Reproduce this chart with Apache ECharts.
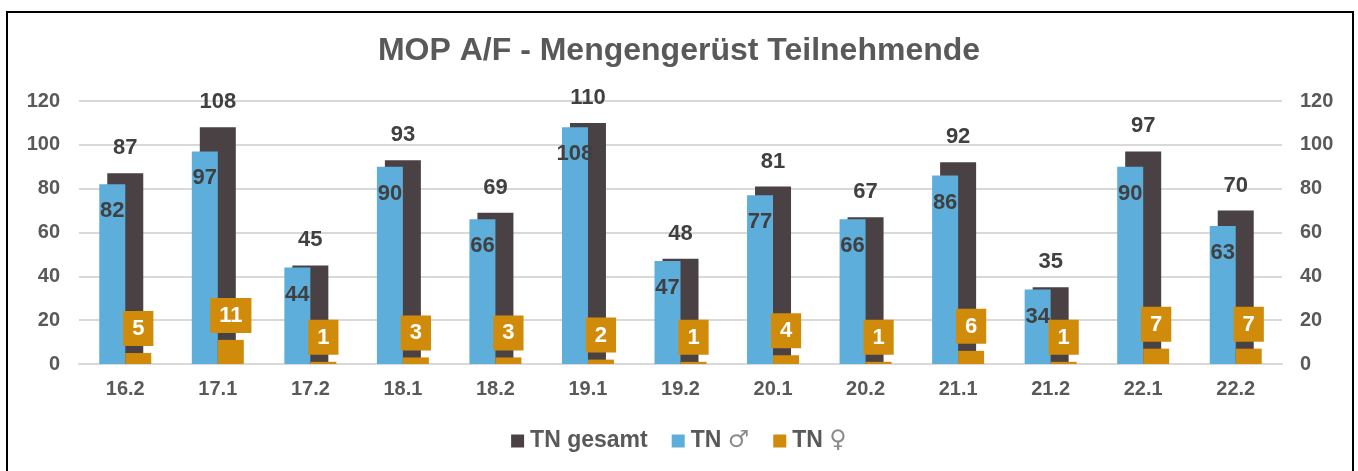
<!DOCTYPE html>
<html>
<head>
<meta charset="utf-8">
<script src="https://cdn.jsdelivr.net/npm/echarts@6/dist/echarts.min.js"></script>
<style>
    html, body { margin: 0; padding: 0; background: #fff; }
    #chart { width: 1358px; height: 471px; }
</style>
</head>
<body>
<div id="chart"></div>
<script>
    var categories = ['16.2', '17.1', '17.2', '18.1', '18.2', '19.1', '19.2', '20.1', '20.2', '21.1', '21.2', '22.1', '22.2'];
    var tnGesamt = [87, 108, 45, 93, 69, 110, 48, 81, 67, 92, 35, 97, 70];
    var tnMaennlich = [82, 97, 44, 90, 66, 108, 47, 77, 66, 86, 34, 90, 63];
    var tnWeiblich = [5, 11, 1, 3, 3, 2, 1, 4, 1, 6, 1, 7, 7];

    var font = '"Liberation Sans", Arial, sans-serif';
    var grey = '#595959';

    var chart = echarts.init(document.getElementById('chart'));
    var axisLabel = {fontFamily: font, fontSize: 20, fontWeight: 'bold', color: grey};

    var option = {
        animation: false,
        graphic: [{
            type: 'rect',
            shape: {x: 7, y: 12, width: 1346, height: 470},
            style: {fill: 'none', stroke: '#000', lineWidth: 2},
            silent: true
        }],
        title: {
            text: 'MOP A/F - Mengengerüst Teilnehmende',
            left: 'center',
            top: 30,
            textStyle: {fontFamily: font, fontSize: 32, fontWeight: 'bold', color: grey}
        },
        legend: {
            bottom: 13,
            left: 'center',
            icon: 'rect',
            itemWidth: 13,
            itemHeight: 13,
            itemGap: 24,
            data: ['TN gesamt', 'TN ♂', 'TN ♀'],
            formatter: function (name) {
                return name.replace(/ ([♂♀])/, ' {s|$1}');
            },
            textStyle: {
                fontFamily: font, fontSize: 23, fontWeight: 'bold', color: grey, padding: [0, 0, 0, 1],
                rich: {s: {fontFamily: '"DejaVu Sans", sans-serif', fontSize: 24, fontWeight: 'normal', color: '#8c8c8c'}}
            }
        },
        grid: {left: 79, right: 76, top: 101, bottom: 107},
        xAxis: [{
            type: 'category',
            data: categories,
            axisTick: {show: false},
            axisLine: {lineStyle: {color: '#d9d9d9', width: 2}},
            axisLabel: Object.assign({margin: 15}, axisLabel)
        }, {
            type: 'category',
            data: categories,
            show: false
        }],
        yAxis: [{
            type: 'value',
            min: 0, max: 120, interval: 20,
            axisLabel: Object.assign({margin: 19}, axisLabel),
            splitLine: {lineStyle: {color: '#d9d9d9', width: 2}}
        }, {
            type: 'value',
            min: 0, max: 120, interval: 20,
            position: 'right',
            axisLabel: Object.assign({margin: 18}, axisLabel),
            splitLine: {show: false}
        }],
        series: [{
            name: 'TN gesamt',
            type: 'bar',
            xAxisIndex: 0,
            barWidth: 36,
            z: 1,
            itemStyle: {color: '#4a4145'},
            data: tnGesamt,
            label: {
                show: true, position: 'top', distance: 14,
                fontFamily: font, fontSize: 22, fontWeight: 'bold', color: '#404040'
            }
        }, {
            name: 'TN ♂',
            type: 'bar',
            xAxisIndex: 1,
            barWidth: 26,
            barGap: '0%',
            z: 3,
            itemStyle: {color: '#5eaedc'},
            data: tnMaennlich,
            label: {
                show: true, position: 'insideTop', distance: 16,
                fontFamily: font, fontSize: 22, fontWeight: 'bold', color: '#404040'
            }
        }, {
            name: 'TN ♀',
            type: 'bar',
            xAxisIndex: 1,
            barWidth: 26,
            barGap: '0%',
            z: 3,
            itemStyle: {color: '#d18b0b'},
            data: tnWeiblich,
            label: {
                show: true, position: 'top', distance: 7,
                fontFamily: font, fontSize: 22, fontWeight: 'bold', color: '#fff',
                backgroundColor: '#d18b0b',
                padding: [7, 9, 6, 9]
            }
        }]
    };
    chart.setOption(option);
</script>
</body>
</html>
